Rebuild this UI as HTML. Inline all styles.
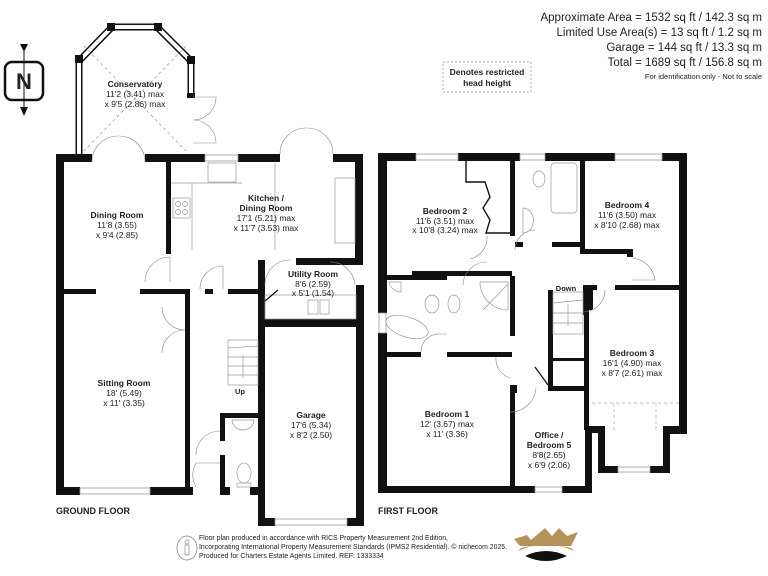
<!DOCTYPE html>
<html><head><meta charset="utf-8"><style>
html,body{margin:0;padding:0;background:#fff}
svg{display:block}
text{font-family:"Liberation Sans",Arial,sans-serif;fill:#222}
.b{font-weight:bold;font-size:8.5px}
.s{font-size:8.5px}
.w{fill:#111}
.win{fill:#fff;stroke:#999;stroke-width:0.8}
.th{fill:none;stroke:#888;stroke-width:0.6}
</style></head><body>
<svg width="768" height="576" viewBox="0 0 768 576">
<!-- header -->
<g font-size="11.5" text-anchor="end">
<text x="762" y="21">Approximate Area = 1532 sq ft / 142.3 sq m</text>
<text x="762" y="36">Limited Use Area(s) = 13 sq ft / 1.2 sq m</text>
<text x="762" y="51">Garage = 144 sq ft / 13.3 sq m</text>
<text x="762" y="66">Total = 1689 sq ft / 156.8 sq m</text>
<text x="762" y="79" font-size="7.5">For identification only - Not to scale</text>
</g>
<rect x="443" y="62" width="88" height="30" fill="none" stroke="#aaa" stroke-dasharray="2,2"/>
<text x="487" y="75" class="b" text-anchor="middle">Denotes restricted</text>
<text x="487" y="86" class="b" text-anchor="middle">head height</text>
<!-- north -->
<rect x="5" y="62" width="38" height="38" rx="7" fill="#fff" stroke="#111" stroke-width="2.5"/>
<line x1="24" y1="44" x2="24" y2="112" stroke="#111" stroke-width="1"/>
<polygon points="20,44 28,44 24,52" fill="#111"/>
<polygon points="20,107 28,107 24,116" fill="#111"/>
<text x="24" y="89" font-size="22" font-weight="bold" text-anchor="middle" fill="#111">N</text>

<!-- conservatory -->
<g stroke="#111" stroke-width="1" fill="#fff">
<polyline points="79,154 79,61 112,27 157,27 191,61 191,95" fill="none" stroke="#111" stroke-width="7"/>
<polyline points="79,154 79,61 112,27 157,27 191,61 191,95" fill="none" stroke="#fff" stroke-width="4"/>
</g>
<g class="w"><rect x="75" y="55" width="8" height="8"/><rect x="107" y="23" width="8" height="8"/><rect x="154" y="23" width="8" height="8"/><rect x="187" y="56" width="8" height="8"/><rect x="187" y="93" width="8" height="5"/></g>
<line x1="84" y1="46" x2="186" y2="151" class="th" stroke-dasharray="3,3"/>
<line x1="186" y1="46" x2="84" y2="151" class="th" stroke-dasharray="3,3"/>
<path d="M193,97 L216,97 A23,23 0 0 1 193,120 M193,143 L216,143 A23,23 0 0 0 193,120" class="th" stroke="#555"/>
<text x="135" y="87" class="b" text-anchor="middle">Conservatory</text>
<text x="135" y="97" class="s" text-anchor="middle">11'2 (3.41) max</text>
<text x="135" y="107" class="s" text-anchor="middle">x 9'5 (2.86) max</text>

<!-- GROUND FLOOR walls -->
<g class="w">
<rect x="56" y="154" width="36" height="8"/>
<rect x="145" y="154" width="60" height="8"/>
<rect x="238" y="154" width="42" height="8"/>
<rect x="333" y="154" width="30" height="8"/>
<rect x="56" y="154" width="8" height="341"/>
<rect x="355" y="154" width="8" height="111"/>
<rect x="296" y="258" width="67" height="7"/>
<rect x="166" y="162" width="5" height="92"/>
<rect x="64" y="289" width="32" height="5"/>
<rect x="140" y="289" width="45" height="5"/>
<rect x="185" y="289" width="5" height="206"/>
<rect x="205" y="289" width="8" height="5"/>
<rect x="228" y="289" width="34" height="5"/>
<rect x="258" y="260" width="7" height="265"/>
<rect x="258" y="319" width="106" height="8"/>
<rect x="356" y="285" width="8" height="241"/>
<rect x="258" y="518" width="17" height="8"/>
<rect x="347" y="518" width="17" height="8"/>
<rect x="56" y="487" width="24" height="8"/>
<rect x="150" y="487" width="43" height="8"/>
<rect x="220" y="487" width="10" height="8"/>
<rect x="250" y="487" width="10" height="8"/>
<rect x="220" y="413" width="5" height="28"/>
<rect x="220" y="455" width="5" height="40"/>
<rect x="220" y="413" width="40" height="5"/>
</g>
<rect x="80" y="488" width="70" height="6" class="win"/>
<rect x="275" y="519" width="72" height="6" class="win"/>
<rect x="205" y="155" width="33" height="6" class="win"/>
<!-- doors ground -->
<g class="th" stroke="#555">
<path d="M92,162 A26,26 0 0 1 118,136 M145,162 A26,26 0 0 0 119,136"/>
<path d="M280,154 A26,26 0 0 1 306,128 M333,154 A26,26 0 0 0 307,128"/>
<path d="M145,282 A25,25 0 0 1 170,257 L170,282"/>
<path d="M200,289 A23,23 0 0 1 223,266 L223,289"/>
<path d="M185,330 A23,23 0 0 1 162,307 M185,330 A23,23 0 0 0 162,353"/>
<path d="M196,455 A24,24 0 0 1 220,431"/>
<path d="M196,487 A24,24 0 0 1 196,463 L220,463"/>
<path d="M265,285 A25,25 0 0 1 290,260 M355,285 A25,25 0 0 0 330,262"/>
</g>
<!-- kitchen fittings -->
<g fill="none" stroke="#999" stroke-width="0.7">
<rect x="208" y="163" width="28" height="19"/>
<polyline points="171,183 242,183"/><line x1="192" y1="183" x2="192" y2="250"/>
<rect x="173" y="198" width="17" height="20"/><circle cx="178" cy="204" r="2.5"/><circle cx="185" cy="204" r="2.5"/><circle cx="178" cy="212" r="2.5"/><circle cx="185" cy="212" r="2.5"/>
<rect x="335" y="178" width="20" height="65"/>
<line x1="275" y1="163" x2="275" y2="250"/>
<rect x="265" y="295" width="91" height="24"/>
<rect x="308" y="300" width="10" height="14"/><rect x="320" y="300" width="9" height="14"/>
<line x1="265" y1="301" x2="278" y2="290" stroke="#111" stroke-width="1.2"/>
<!-- stairs -->
<rect x="228" y="340" width="30" height="45"/>
<line x1="228" y1="348" x2="258" y2="346"/><line x1="228" y1="357" x2="258" y2="357"/><line x1="228" y1="366" x2="258" y2="366"/><line x1="228" y1="375" x2="258" y2="375"/>
<line x1="243" y1="355" x2="243" y2="378"/>
<path d="M232,420 h22 a11,10 0 0 1 -22,0z"/>
<ellipse cx="244" cy="473" rx="7" ry="10"/><rect x="237" y="483" width="14" height="4"/>
</g>
<text x="240" y="394" font-size="7.5" font-weight="bold" text-anchor="middle">Up</text>

<g text-anchor="middle">
<text x="117" y="218" class="b">Dining Room</text>
<text x="117" y="228" class="s">11'8 (3.55)</text>
<text x="117" y="238" class="s">x 9'4 (2.85)</text>
<text x="266" y="201" class="b">Kitchen /</text>
<text x="266" y="211" class="b">Dining Room</text>
<text x="266" y="221" class="s">17'1 (5.21) max</text>
<text x="266" y="231" class="s">x 11'7 (3.53) max</text>
<text x="313" y="277" class="b">Utility Room</text>
<text x="313" y="287" class="s">8'6 (2.59)</text>
<text x="313" y="296" class="s">x 5'1 (1.54)</text>
<text x="124" y="386" class="b">Sitting Room</text>
<text x="124" y="396" class="s">18' (5.49)</text>
<text x="124" y="406" class="s">x 11' (3.35)</text>
<text x="311" y="418" class="b">Garage</text>
<text x="311" y="428" class="s">17'6 (5.34)</text>
<text x="311" y="438" class="s">x 8'2 (2.50)</text>
</g>
<text x="56" y="514" font-size="9" font-weight="bold">GROUND FLOOR</text>

<!-- FIRST FLOOR walls -->
<g class="w">
<rect x="378" y="153" width="38" height="8"/>
<rect x="458" y="153" width="62" height="8"/>
<rect x="545" y="153" width="70" height="8"/>
<rect x="662" y="153" width="25" height="8"/>
<rect x="378" y="153" width="9" height="160"/>
<rect x="378" y="333" width="9" height="160"/>
<rect x="679" y="153" width="8" height="281"/>
<rect x="378" y="486" width="157" height="7"/>
<rect x="562" y="486" width="30" height="7"/>
<rect x="585" y="433" width="7" height="60"/>
<rect x="585" y="426" width="20" height="7"/>
<rect x="663" y="426" width="24" height="8"/>
<rect x="598" y="426" width="7" height="47"/>
<rect x="663" y="426" width="7" height="47"/>
<rect x="598" y="466" width="20" height="7"/>
<rect x="650" y="466" width="20" height="7"/>
<rect x="387" y="275" width="60" height="5"/>
<rect x="386" y="275" width="10" height="5"/>
<rect x="510" y="161" width="5" height="75"/>
<rect x="447" y="271" width="65" height="5"/>
<rect x="412" y="271" width="100" height="5"/>
<rect x="515" y="242" width="8" height="5"/>
<rect x="552" y="242" width="30" height="5"/>
<rect x="580" y="161" width="5" height="90"/>
<rect x="580" y="249" width="50" height="5"/>
<rect x="627" y="249" width="6" height="8"/>
<rect x="615" y="285" width="72" height="5"/>
<rect x="589" y="285" width="8" height="5"/>
<rect x="584" y="285" width="5" height="145"/>
<rect x="583" y="285" width="5" height="30"/>
<rect x="510" y="276" width="5" height="60"/>
<rect x="386" y="352" width="35" height="5"/>
<rect x="447" y="352" width="65" height="5"/>
<rect x="510" y="385" width="7" height="8"/>
<rect x="510" y="385" width="5" height="105"/>
<rect x="548" y="386" width="37" height="5"/>
<rect x="548" y="358" width="5" height="30"/>
<rect x="548" y="358" width="37" height="3"/>
<rect x="548" y="290" width="5" height="70"/>
<rect x="588" y="290" width="5" height="20"/>
</g>
<rect x="416" y="154" width="42" height="6" class="win"/>
<rect x="520" y="154" width="25" height="6" class="win"/>
<rect x="615" y="154" width="47" height="6" class="win"/>
<rect x="379" y="313" width="7" height="20" class="win"/>
<rect x="535" y="487" width="27" height="5" class="win"/>
<rect x="618" y="467" width="32" height="5" class="win"/>
<g class="th" stroke="#555">
<path d="M487,236 A22,22 0 0 1 470,259 M487,262 A24,24 0 0 0 463,285"/>
<path d="M515,250 A20,20 0 0 1 535,230"/>
<path d="M632,258 A25,25 0 0 1 655,280 L632,280"/>
<path d="M605,290 A22,22 0 0 1 583,312"/>
<path d="M421,352 A18,18 0 0 1 440,334 L447,334"/>
<path d="M496,357 A20,20 0 0 0 510,378 M510,412 A26,26 0 0 0 536,388"/>
</g>
<g fill="none" stroke="#999" stroke-width="0.7">
<polyline points="466,161 466,182 485,182 490,197 483,208 490,220 486,233 510,233" stroke="#111" stroke-width="1.4"/>
<ellipse cx="539" cy="179" rx="6" ry="8"/>
<rect x="551" y="163" width="26" height="50" rx="4"/>
<path d="M523,208 a10,12 0 0 1 0,25z"/>
<path d="M389,282 h12 v10 a12,12 0 0 1 -12,-10z"/>
<ellipse cx="407" cy="327" rx="22" ry="10" transform="rotate(18 407 327)"/>
<ellipse cx="432" cy="304" rx="7" ry="9"/>
<ellipse cx="454" cy="304" rx="6" ry="9"/>
<path d="M480,282 h28 v28 a28,28 0 0 1 -28,-28z"/>
<line x1="483" y1="310" x2="508" y2="284"/>
<rect x="553" y="292" width="30" height="42"/>
<line x1="553" y1="303" x2="583" y2="300"/><line x1="553" y1="313" x2="583" y2="313"/><line x1="553" y1="323" x2="583" y2="323"/>
<line x1="568" y1="304" x2="568" y2="326"/>
<line x1="592" y1="403" x2="679" y2="403" stroke-dasharray="3,3" stroke="#aaa"/>
<line x1="614" y1="403" x2="614" y2="430" stroke-dasharray="3,3" stroke="#aaa"/>
<line x1="656" y1="403" x2="656" y2="430" stroke-dasharray="3,3" stroke="#aaa"/>
<line x1="535" y1="367" x2="548" y2="385" stroke="#111" stroke-width="1.3"/>
</g>
<text x="566" y="291" font-size="7.5" font-weight="bold" text-anchor="middle">Down</text>
<g text-anchor="middle">
<text x="445" y="214" class="b">Bedroom 2</text>
<text x="445" y="224" class="s">11'6 (3.51) max</text>
<text x="445" y="233" class="s">x 10'8 (3.24) max</text>
<text x="627" y="208" class="b">Bedroom 4</text>
<text x="627" y="218" class="s">11'6 (3.50) max</text>
<text x="627" y="228" class="s">x 8'10 (2.68) max</text>
<text x="632" y="356" class="b">Bedroom 3</text>
<text x="632" y="366" class="s">16'1 (4.90) max</text>
<text x="632" y="376" class="s">x 8'7 (2.61) max</text>
<text x="447" y="417" class="b">Bedroom 1</text>
<text x="447" y="427" class="s">12' (3.67) max</text>
<text x="447" y="437" class="s">x 11' (3.36)</text>
<text x="549" y="438" class="b">Office /</text>
<text x="549" y="448" class="b">Bedroom 5</text>
<text x="549" y="458" class="s">8'8(2.65)</text>
<text x="549" y="468" class="s">x 6'9 (2.06)</text>
</g>
<text x="378" y="514" font-size="9" font-weight="bold">FIRST FLOOR</text>

<!-- footer -->
<ellipse cx="187" cy="548" rx="10" ry="12" fill="none" stroke="#888" stroke-width="0.8"/>
<circle cx="187" cy="542" r="2" fill="none" stroke="#888" stroke-width="0.7"/>
<rect x="185" y="545" width="4" height="10" fill="none" stroke="#888" stroke-width="0.7"/>
<g font-size="6.9">
<text x="199" y="540" fill="#666">Floor plan produced in accordance with RICS Property Measurement 2nd Edition,</text>
<text x="199" y="549" fill="#666">Incorporating International Property Measurement Standards (IPMS2 Residential).   © nichecom 2025.</text>
<text x="199" y="558" fill="#666">Produced for Charters Estate Agents Limited.   REF: 1333334</text>
</g>
<polygon points="514,539 527,535 531,540 545,528 552,536 559,528 567,536 578,532 571,546 520,546" fill="#b49358"/>
<path d="M518,551 Q546,538 574,551 L571,548 Q546,542 521,548Z" fill="#b49358"/>
<path d="M525,556 Q546,546 567,556 Q546,566 525,556Z" fill="#111"/>
</svg>
</body></html>
